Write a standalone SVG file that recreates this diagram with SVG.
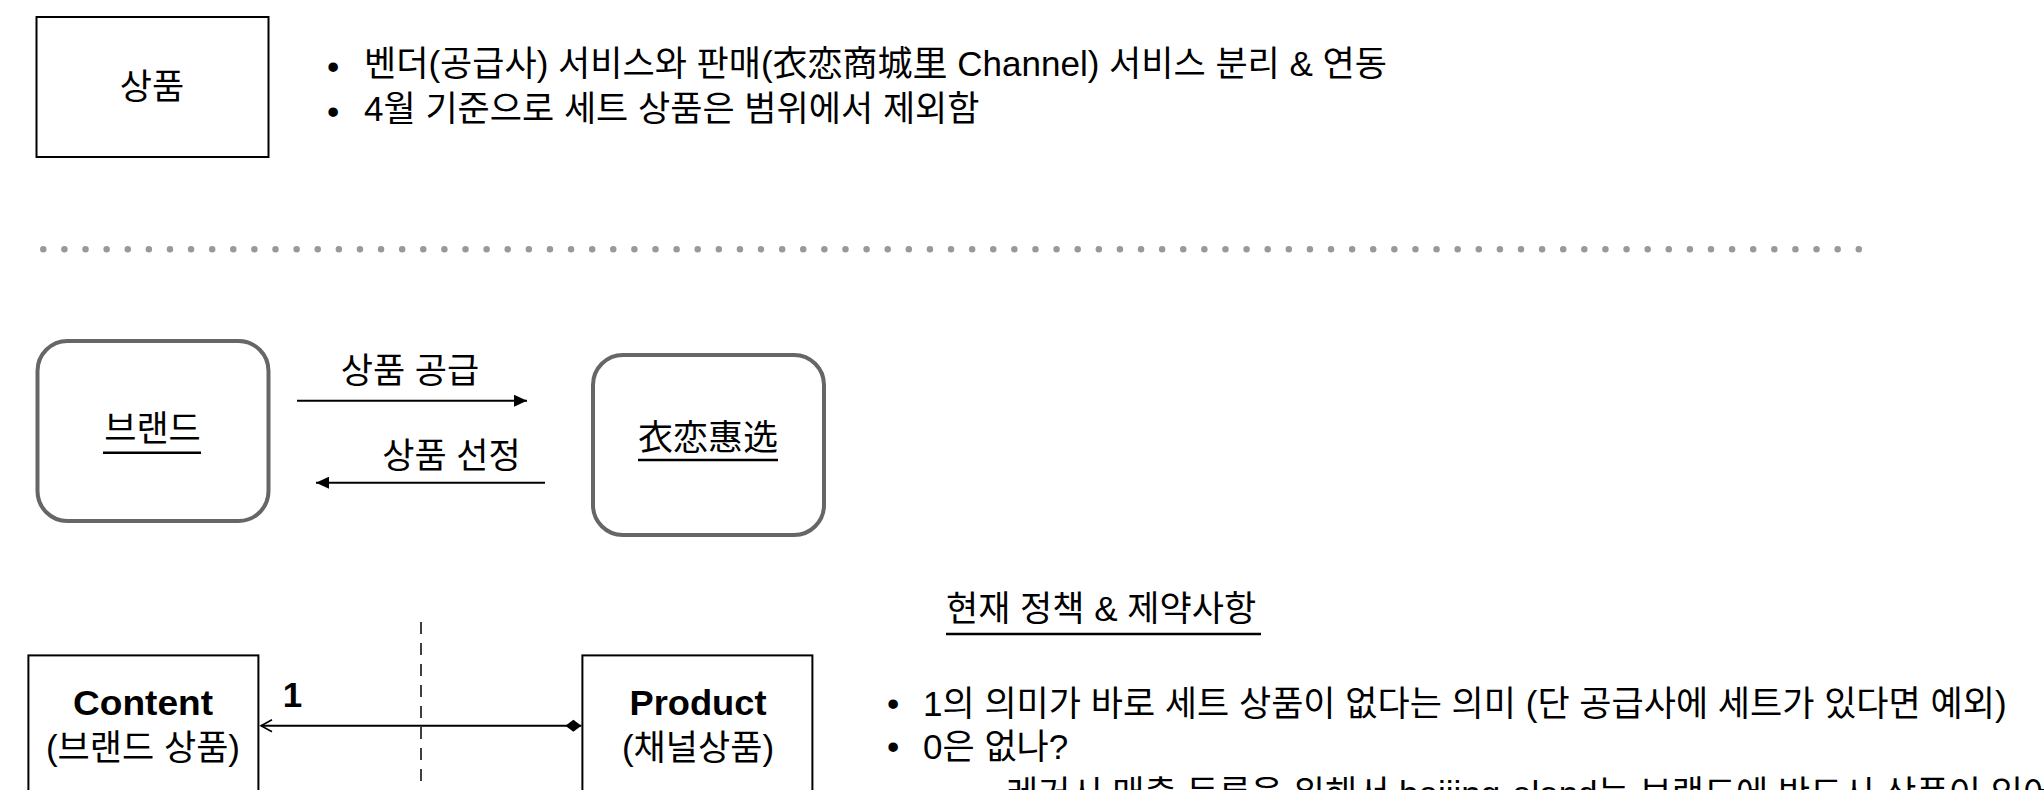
<svg xmlns="http://www.w3.org/2000/svg" width="2044" height="790" viewBox="0 0 2044 790">
<style>
text { font-family: 'Liberation Sans', 'Noto Sans CJK KR', sans-serif; font-size: 35px; font-weight: normal; fill: #000; }
.c { text-anchor: middle; }
.b { font-weight: bold; }
.box { fill: #fff; stroke: #000; stroke-width: 2; }
.rbox { fill: #fff; stroke: #666; stroke-width: 4; }
.ln { fill: none; stroke: #000; stroke-width: 2; }
.ul { stroke: #000; stroke-width: 2.5; }
</style>
<defs>
<marker id="arrFill" markerUnits="userSpaceOnUse" markerWidth="14" markerHeight="12" refX="13" refY="6" orient="auto">
<path d="M0,0 L13,6 L0,12 z" fill="#000"/>
</marker>
<marker id="arrOpen" markerUnits="userSpaceOnUse" markerWidth="14" markerHeight="16" refX="12" refY="7" orient="auto">
<path d="M1,1 L12,7 L1,13" fill="none" stroke="#000" stroke-width="1.6"/>
</marker>
<marker id="diamond" markerUnits="userSpaceOnUse" markerWidth="17" markerHeight="13" refX="0" refY="6" orient="auto">
<path d="M0,6 L8,0 L16,6 L8,12 z" fill="#000"/>
</marker>
</defs>

<g id="node-sangpum">
<rect class="box" x="36.5" y="17" width="232" height="140"/>
<text class="c" x="152" y="99">상품</text>
</g>

<g id="top-notes">
<text x="327" y="79" font-size="32">•</text>
<text x="364" y="76">벤더(공급사) 서비스와 판매(衣恋商城里 Channel) 서비스 분리 &amp; 연동</text>
<text x="327" y="124" font-size="32">•</text>
<text x="364" y="121">4월 기준으로 세트 상품은 범위에서 제외함</text>
</g>

<g id="divider">
<path d="M43.3,249.3 H1860" fill="none" stroke="#999" stroke-width="6.5" stroke-linecap="round" stroke-dasharray="0 21.11"/>
</g>

<g id="node-brand">
<rect class="rbox" x="37.5" y="341" width="231" height="180" rx="30" ry="30"/>
<text class="c" x="152.5" y="441">브랜드</text>
<line class="ul" x1="103" y1="452.7" x2="201" y2="452.7"/>
</g>

<g id="node-eland">
<rect class="rbox" x="593" y="355" width="231" height="180" rx="30" ry="30"/>
<text class="c" x="708" y="450">衣恋惠选</text>
<line class="ul" x1="638" y1="460" x2="778" y2="460"/>
</g>

<g id="node-content">
<rect class="box" x="28.4" y="655.4" width="230" height="200"/>
<text class="c b" x="143" y="715" font-size="31" textLength="140" lengthAdjust="spacingAndGlyphs">Content</text>
<text class="c" x="143" y="760">(브랜드 상품)</text>
</g>

<g id="node-product">
<rect class="box" x="582.4" y="655.4" width="230" height="200"/>
<text class="c b" x="698" y="715" font-size="31" textLength="137" lengthAdjust="spacingAndGlyphs">Product</text>
<text class="c" x="698" y="760">(채널상품)</text>
</g>

<g id="policy">
<text x="946" y="621" font-size="36.5">현재 정책 &amp; 제약사항</text>
<line class="ul" x1="946" y1="634" x2="1261" y2="634"/>
<text x="887" y="716" font-size="32">•</text>
<text x="923" y="716">1의 의미가 바로 세트 상품이 없다는 의미 (단 공급사에 세트가 있다면 예외)</text>
<text x="887" y="759" font-size="32">•</text>
<text x="923" y="759">0은 없나?</text>
<text x="1006" y="806">레거시 매출 등록을 위해서 beijing-eland는 브랜드에 반드시 상품이 있어야 함</text>
</g>

<g id="connectors">
<path class="ln" d="M297,400.7 H527" marker-end="url(#arrFill)"/>
<text class="c" x="410" y="383">상품 공급</text>
<path class="ln" d="M545,482.7 H316" marker-end="url(#arrFill)"/>
<text class="c" x="451.5" y="468">상품 선정</text>
<path d="M421,622 V790" fill="none" stroke="#000" stroke-width="1.5" stroke-dasharray="12 9"/>
<path class="ln" d="M581.4,725.7 H261" marker-start="url(#diamond)" marker-end="url(#arrOpen)"/>
<text class="c b" x="292.5" y="706.7" font-size="26">1</text>
</g>
</svg>
